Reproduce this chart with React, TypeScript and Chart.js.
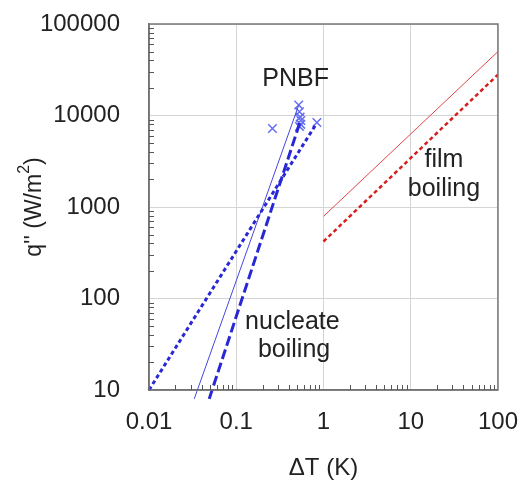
import React, { useEffect, useRef } from 'react';
import { Chart, registerables } from 'chart.js';
Chart.register(...registerables);

const xTicks = [0.01, 0.1, 1, 10, 100];
const yTicks = [10, 100, 1000, 10000, 100000];
const xTickLabels = ['0.01', '0.1', '1', '10', '100'];
const yTickLabels = ['10', '100', '1000', '10000', '100000'];

const nbSolidX = [0.033, 0.52];
const nbSolidY = [8, 13000];
const nbDashX = [0.049, 0.55];
const nbDashY = [8, 9000];
const nbDotX = [0.01, 0.82];
const nbDotY = [10, 8000];
const pnbfX = [0.26, 0.52, 0.53, 0.54, 0.55, 0.55, 0.53, 0.84];
const pnbfY = [7200, 13000, 11000, 9600, 8800, 8000, 7600, 8400];
const filmSolidX = [1, 100];
const filmSolidY = [790, 50000];
const filmDotX = [1, 100];
const filmDotY = [420, 28000];

const annoTexts = ['PNBF', 'film', 'boiling', 'nucleate', 'boiling'];
const annoX = [0.48, 24, 24, 0.44, 0.46];
const annoY = [25000, 3250, 1570, 55, 27];

const FONT = 'Arial, "Liberation Sans", sans-serif';
const TEXT = '#222';

const pts = (xs: number[], ys: number[]) => xs.map((x, i) => ({ x, y: ys[i] }));

const decorPlugin = {
  id: 'decor',
  afterDraw(chart: any) {
    const { ctx, chartArea: a, scales } = chart;
    const xs = scales.x, ys = scales.y;
    ctx.save();
    ctx.strokeStyle = '#777';
    ctx.lineWidth = 1.5;
    ctx.strokeRect(a.left, a.top, a.right - a.left, a.bottom - a.top);
    ctx.strokeStyle = '#555';
    ctx.lineWidth = 1;
    ctx.beginPath();
    for (let d = 0; d < xTicks.length - 1; d++) {
      for (let m = 2; m <= 9; m++) {
        const px = Math.round(xs.getPixelForValue(xTicks[d] * m)) + 0.5;
        ctx.moveTo(px, a.bottom);
        ctx.lineTo(px, a.bottom - 5);
      }
    }
    for (let d = 0; d < yTicks.length - 1; d++) {
      for (let m = 2; m <= 9; m++) {
        const py = Math.round(ys.getPixelForValue(yTicks[d] * m)) + 0.5;
        ctx.moveTo(a.left, py);
        ctx.lineTo(a.left + 5, py);
      }
    }
    ctx.stroke();
    ctx.fillStyle = TEXT;
    ctx.font = `25px ${FONT}`;
    ctx.textAlign = 'center';
    ctx.textBaseline = 'middle';
    annoTexts.forEach((t, i) => {
      ctx.fillText(t, xs.getPixelForValue(annoX[i]), ys.getPixelForValue(annoY[i]));
    });
    ctx.font = `24px ${FONT}`;
    ctx.fillText('\u0394T (K)', (a.left + a.right) / 2, 468);
    ctx.translate(35, (a.top + a.bottom) / 2);
    ctx.rotate(-Math.PI / 2);
    const main = "q'' (W/m";
    ctx.font = `23px ${FONT}`;
    const w1 = ctx.measureText(main).width;
    ctx.font = `16px ${FONT}`;
    const w2 = ctx.measureText('2').width;
    ctx.font = `23px ${FONT}`;
    const w3 = ctx.measureText(')').width;
    const total = w1 + w2 + w3;
    const x0 = -total / 2;
    ctx.textAlign = 'left';
    ctx.fillText(main, x0, 0);
    ctx.font = `16px ${FONT}`;
    ctx.fillText('2', x0 + w1, -10);
    ctx.font = `23px ${FONT}`;
    ctx.fillText(')', x0 + w1 + w2, 0);
    ctx.restore();
  },
};

export default function App() {
  const ref = useRef<HTMLCanvasElement>(null);
  useEffect(() => {
    if (!ref.current) return;
    const blue = 'rgb(40,40,215)';
    const chart = new Chart(ref.current, {
      type: 'scatter',
      data: {
        datasets: [
          { data: pts(nbDotX, nbDotY), showLine: true, borderColor: blue, borderWidth: 3, borderDash: [4, 3], pointRadius: 0, clip: false } as any,
          { data: pts(nbSolidX, nbSolidY), showLine: true, borderColor: 'rgb(70,70,225)', borderWidth: 1, pointRadius: 0, clip: false } as any,
          { data: pts(nbDashX, nbDashY), showLine: true, borderColor: blue, borderWidth: 3, borderDash: [10, 4], pointRadius: 0, clip: false } as any,
          { data: pts(pnbfX, pnbfY), showLine: false, pointStyle: 'crossRot', pointRadius: 6, borderWidth: 1.5, borderColor: 'rgb(100,110,240)', backgroundColor: 'rgb(100,110,240)' } as any,
          { data: pts(filmSolidX, filmSolidY), showLine: true, borderColor: 'rgb(225,70,70)', borderWidth: 1, pointRadius: 0 } as any,
          { data: pts(filmDotX, filmDotY), showLine: true, borderColor: 'rgb(215,30,30)', borderWidth: 2.5, borderDash: [4, 3], pointRadius: 0 } as any,
        ],
      },
      options: {
        animation: false,
        responsive: true,
        maintainAspectRatio: false,
        layout: { padding: { top: 24, right: 23, left: 0, bottom: 0 } },
        plugins: { legend: { display: false }, tooltip: { enabled: false } },
        scales: {
          x: {
            type: 'logarithmic',
            min: 0.01,
            max: 100,
            afterBuildTicks: (s: any) => { s.ticks = xTicks.map((v) => ({ value: v })); },
            afterFit: (s: any) => { s.height = 92; },
            ticks: {
              autoSkip: false,
              maxRotation: 0,
              padding: 3,
              color: TEXT,
              font: { family: FONT, size: 24 },
              callback: (v: any) => { const i = xTicks.indexOf(Number(v)); return i >= 0 ? xTickLabels[i] : ''; },
            },
            grid: { color: '#d4d4d4', lineWidth: 1, drawTicks: true, tickLength: 15, tickColor: 'rgba(0,0,0,0)' },
            border: { display: true, color: '#666', width: 1.5 },
          },
          y: {
            type: 'logarithmic',
            min: 10,
            max: 100000,
            afterBuildTicks: (s: any) => { s.ticks = yTicks.map((v) => ({ value: v })); },
            afterFit: (s: any) => { s.width = 149; },
            ticks: {
              autoSkip: false,
              padding: 3,
              color: TEXT,
              font: { family: FONT, size: 24 },
              callback: (v: any) => { const i = yTicks.indexOf(Number(v)); return i >= 0 ? yTickLabels[i] : ''; },
            },
            grid: { color: '#d4d4d4', lineWidth: 1, drawTicks: true, tickLength: 26, tickColor: 'rgba(0,0,0,0)' },
            border: { display: true, color: '#666', width: 1.5 },
          },
        },
      },
      plugins: [decorPlugin],
    } as any);
    return () => chart.destroy();
  }, []);
  return (
    <div style={{ position: 'fixed', left: 0, top: 0, width: 521, height: 482, background: '#fff' }}>
      <canvas ref={ref} />
    </div>
  );
}
